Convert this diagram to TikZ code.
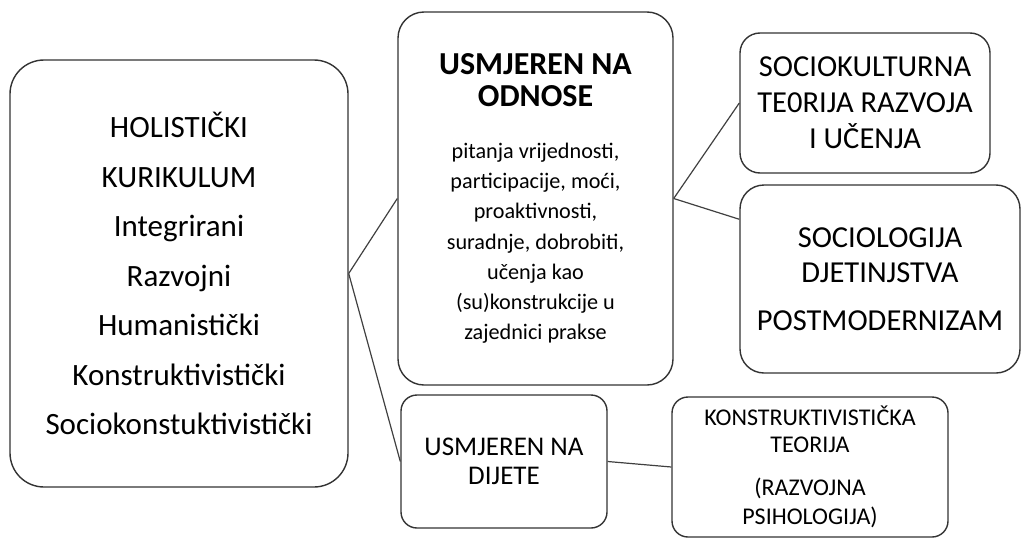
\documentclass[tikz,border=0pt]{standalone}
\usepackage{fontspec}
\setmainfont{Carlito}
\begin{document}
\begin{tikzpicture}[x=1pt, y=-1pt, auto,
    okvir/.style ={rectangle, draw=black!80, line width=1.4pt, align=center, inner sep=0pt},
    veza/.style ={draw=black!75, line width=1.2pt}]
   \useasboundingbox (0,0) rectangle (1022,538);
   \node[okvir, rounded corners=34pt, minimum width=338pt, minimum height=427pt,
         font=\fontsize{31}{49.5}\selectfont] (K) at (179,273.5)
     {HOLISTIČKI\\KURIKULUM\\Integrirani\\Razvojni\\Humanistički\\Konstruktivistički\\Sociokonstuktivistički};
   \node[okvir, rounded corners=26pt, minimum width=275pt, minimum height=373pt,
         font=\fontsize{22.2}{30.2}\selectfont] (O) at (535.5,198.5)
     {\bfseries\fontsize{32}{30.2}\selectfont USMJEREN NA\\[1.8pt]
      \bfseries\fontsize{32}{30.2}\selectfont ODNOSE\\[21.8pt]
      pitanja vrijednosti,\\participacije, moći,\\proaktivnosti,\\suradnje, dobrobiti,\\učenja kao\\(su)konstrukcije u\\zajednici prakse};
   \node[okvir, rounded corners=20pt, minimum width=250pt, minimum height=140pt,
         font=\fontsize{30.5}{36}\selectfont] (S) at (865,103)
     {SOCIOKULTURNA\\TE0RIJA RAZVOJA\\I UČENJA};
   \node[okvir, rounded corners=24pt, minimum width=280pt, minimum height=188pt,
         font=\fontsize{30.5}{35.5}\selectfont] (D) at (880,279)
     {SOCIOLOGIJA\\DJETINJSTVA\\[12.5pt]POSTMODERNIZAM};
   \node[okvir, rounded corners=16pt, minimum width=206pt, minimum height=133pt,
         font=\fontsize{27}{29.3}\selectfont] (J) at (504,461.5)
     {USMJEREN NA\\DIJETE};
   \node[okvir, rounded corners=16pt, minimum width=276pt, minimum height=140pt,
         font=\fontsize{24}{27}\selectfont] (T) at (810,467)
     {KONSTRUKTIVISTIČKA\\TEORIJA\\[16pt](RAZVOJNA\\[2pt]PSIHOLOGIJA)};
   \draw[veza] (K.east) to (O.west);
   \draw[veza] (K.east) to (J.west);
   \draw[veza] (O.east) to (S.west);
   \draw[veza] (O.east) to (D.157);
   \draw[veza] (J.east) to (T.west);
\end{tikzpicture}
\end{document}
